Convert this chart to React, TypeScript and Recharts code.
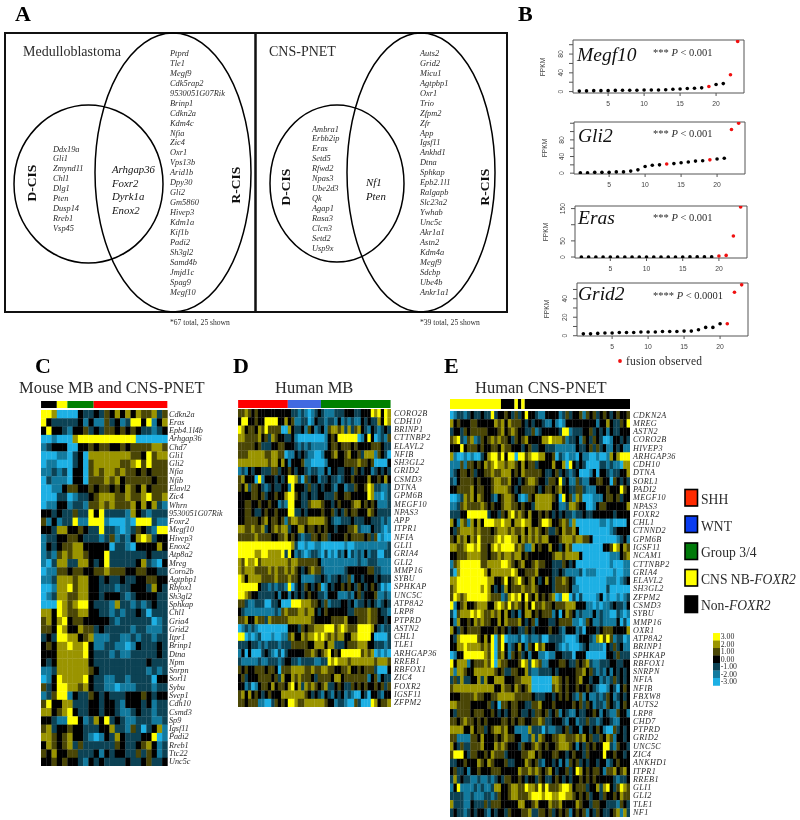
import React from 'react';
import { ScatterChart, Scatter, XAxis, YAxis, ReferenceArea, BarChart, Bar } from 'recharts';

const mbRCis = ['Ptprd','Tle1','Megf9','Cdk5rap2','9530051G07Rik','Brinp1','Cdkn2a','Kdm4c','Nfia','Zic4','Oxr1','Vps13b','Arid1b','Dpy30','Gli2','Gm5860','Hivep3','Kdm1a','Kif1b','Padi2','Sh3gl2','Samd4b','Jmjd1c','Spag9','Megf10'];
const mbDCis = ['Ddx19a','Gli1','Zmynd11','Chl1','Dlg1','Pten','Dusp14','Rreb1','Vsp45'];
const mbBoth = ['Arhgap36','Foxr2','Dyrk1a','Enox2'];
const pnetRCis = ['Auts2','Grid2','Micu1','Agtpbp1','Oxr1','Trio','Zfpm2','Zfr','App','Igsf11','Ankhd1','Dtna','Sphkap','Epb2.1l1','Ralgapb','Slc23a2','Ywhab','Unc5c','Akr1a1','Astn2','Kdm4a','Megf9','Sdcbp','Ube4b','Ankr1a1'];
const pnetDCis = ['Ambra1','Erbb2ip','Eras','Setd5','Rfwd2','Npas3','Ube2d3','Qk','Agap1','Rasa3','Clcn3','Setd2','Usp9x'];
const pnetBoth = ['Nf1','Pten'];

const megf10Values = [1,1.5,2,2,2,2.5,3,3,3,3.5,3.5,3.5,4,5,5.5,6.5,7,8,11,15,17,36,107];
const gli2Values = [1,1,2,2,2,3,3,5,8,16,19,20,22,23,25,27,29,30,32,34,36,105,120];
const erasValues = [0,0,0,0,0,0,0,0,0,0,0,0,0,0,0,0.5,0.5,0.5,0.5,3,5,65,155];
const grid2Values = [2,2,2.5,3,3,3.5,3.5,3.5,4,4,4,4.5,4.5,4.5,5,5,6.5,9,9,13,13,47,55];
const megf10Fusion = [19,22,23];
const gli2Fusion = [13,19,22,23];
const erasFusion = [20,21,22,23];
const grid2Fusion = [21,22,23];

const cGenes = ['Cdkn2a','Eras','Epb4.1l4b','Arhgap36','Chd7','Gli1','Gli2','Nfia','Nfib','Elavl2','Zic4','Whrn','9530051G07Rik','Foxr2','Megf10','Hivep3','Enox2','Atp8a2','Mreg','Coro2b','Agtpbp1','Rbfox1','Sh3gl2','Sphkap','Chl1','Gria4','Grid2','Itpr1','Brinp1','Dtna','Npm','Snrpn','Sorl1','Sybu','Svep1','Cdh10','Csmd3','Sp9','Igsf11','Padi2','Rreb1','Ttc22','Unc5c'];
const dGenes = ['CORO2B','CDH10','BRINP1','CTTNBP2','ELAVL2','NFIB','SH3GL2','GRID2','CSMD3','DTNA','GPM6B','MEGF10','NPAS3','APP','ITPR1','NFIA','GLI1','GRIA4','GLI2','MMP16','SYBU','SPHKAP','UNC5C','ATP8A2','LRP8','PTPRD','ASTN2','CHL1','TLE1','ARHGAP36','RREB1','RBFOX1','ZIC4','FOXR2','IGSF11','ZFPM2'];
const eGenes = ['CDKN2A','MREG','ASTN2','CORO2B','HIVEP3','ARHGAP36','CDH10','DTNA','SORL1','PADI2','MEGF10','NPAS3','FOXR2','CHL1','CTNND2','GPM6B','IGSF11','NCAM1','CTTNBP2','GRIA4','ELAVL2','SH3GL2','ZFPM2','CSMD3','SYBU','MMP16','OXR1','ATP8A2','BRINP1','SPHKAP','RBFOX1','SNRPN','NFIA','NFIB','FBXW8','AUTS2','LRP8','CHD7','PTPRD','GRID2','UNC5C','ZIC4','ANKHD1','ITPR1','RREB1','GLI1','GLI2','TLE1','NF1'];

// heat values: digit 0..6 stands for -3..+3
const cHeat = [
'665000 032232 435353 544524','632222 231311 423126 636135','363321 334232 443434 322123','001000 566666 666666 000000',
'123330 033434 433434 444554','000110 230555 555554 436455','011000 230455 555445 646444','112120 330454 554544 343444',
'021110 330444 545344 444344','001134 433434 434354 353444','000220 122345 554454 456445','011331 221445 454445 353521',
'332322 422636 222215 321222','413122 611666 100010 666211','332553 343226 221012 432166','122334 432221 241213 565233',
'132344 553333 302210 333353','121454 554333 622222 223222','102552 255323 622222 352103','011443 443344 544433 443322',
'112555 455332 322322 334433','001556 455332 221223 332532','012554 455332 333212 333322','000654 566322 215221 212322',
'553654 455332 212122 320222','453563 443333 321222 222012','443653 354423 222221 221112','232665 534511 122112 122122',
'343556 556311 221101 322232','333555 556322 212112 222232','323555 555322 222222 223222','112555 555432 222222 221212',
'013655 556322 112212 222033','423665 545322 110111 222122','124661 322432 322233 343233','463355 222332 332133 323122',
'553456 322332 332112 322122','332116 631253 623211 222112','452334 332223 352214 202351','554345 332101 325322 233601',
'354345 242222 224322 345312','435334 422231 323322 424312','334343 321323 222232 234223'];
const dHeat = [
'4454343333 3333332212 1012321112 2233322333 656365','3663343366 6633534112 2013221221 3121211323 225365','6534435464 4440053223 1431231455 4525245321 321232',
'5544445342 5433223100 0000001343 6666660136 301214','4444434222 3344333212 1211111344 3444343333 444322','4445555544 5544011323 2110013345 3345334255 514320',
'5555555554 5535313334 1100001333 3344445443 400003','1213233222 4423343233 2122113133 2233243233 123232','4533306133 3232366520 4233122322 1233433335 334353',
'4352443212 3223316333 2422323321 3312243346 522112','3333443423 3433566432 2322332224 3344333336 511012','3344334334 3312166332 2455543323 4333455343 431112',
'3344322343 3433366223 2333343342 3243443335 432222','3344443453 4434145544 4555554321 1222322233 222121','5544544523 4545523355 3443434332 3334452111 322101',
'4444454444 3344534321 2244344233 3343444434 240100','6666666666 6666665200 1001100000 0010011111 111112','6666655665 5556263121 0122102010 2130212131 220022',
'5465564555 5555545544 4444311111 1111112112 221111','5455544445 4544545432 3454421111 1123333334 422111','6535555444 4544454431 1112232122 3224133233 323222',
'6666663221 2122160232 4323401323 3434324323 432010','6654332222 2313313232 3433221333 1112134233 341121','4421122200 2230006665 5544324122 2332312232 321232',
'3211111111 1214544455 4553234333 3332244445 443221','4453354425 4444455555 5543333344 4453334445 443323','0121210000 0000033324 3445556664 5654446666 532122',
'6601012000 1001145335 4556565454 5533556666 300002','2223221212 2212224444 4335553552 2234445553 322212','1303000232 1020233333 4454345634 3666666454 501010',
'2111112112 2212332212 2221122656 5554555555 545554','4343344434 4304445555 4454455443 3445334344 420003','3423334444 3425335454 4432444435 5344444441 341322',
'3312013443 5344356352 5454345223 4322434343 343424','4535343234 3335555555 4323213213 2312100320 332133','4434441100 2434366544 5555554331 2210042000 653445'];
const eHeat = [
'0122123223 2262334324 2363321133 3312423341 4342343234 334','5343334433 3335453544 4323233211 3101333333 3331335322 436','2332434444 4333453454 3322412333 3326612223 3423231322 333',
'4562145124 3454544324 3453333556 5554122314 3243200133 232','3336344434 3344354433 3234223322 2111111322 3424231132 311','5100101002 3566463660 6645665533 4021011031 1001001535 666',
'1114144343 5456554554 3534423333 5335063232 0000221211 055','1234434233 4454455534 3544444322 3423212300 0130332122 335','2134444343 3345544533 2345543324 4362311421 1334433043 232',
'3344445344 3345555432 3444432344 3453322442 1113334333 643','0012545354 3321345543 1014355555 4306341540 0011134434 233','1124544445 4343345544 3433255555 3311255433 0013443333 335',
'2223366666 6233243564 5435334343 2323221223 2233333323 333','5315415353 6665565535 5655334665 3345415000 0000110100 003','3245555454 4434555454 4535454342 2435445300 0000000123 333',
'4354535464 4445656655 3545454553 3345554554 4300000001 231','5544566564 4356566664 5411534335 3323540000 0000033465 354','3344455554 4344545545 5343333333 4554555530 0000000111 345',
'1456666664 4555566543 4533454433 2224323000 0000000100 011','2056666666 5355555565 3344453333 2232111120 1110000010 011','5566666666 6553346345 6434532353 2445432000 0000001110 123',
'4566666665 6532325344 4544543333 2444431100 0000002000 000','4654566666 6544412565 6364353434 5016602020 0001301001 012','6134533455 5335654645 4353644544 3444555333 1101011232 213',
'2045556565 4454535323 1355343444 1303543121 1131211002 101','3153343545 4433535444 5323413332 2344441101 4311211113 020','5324344443 3334343233 2243233334 3321333120 3332344433 335',
'3256666643 5360460111 2012112002 2221000133 3215646412 201','3355655554 5460463123 5314364533 3210100012 3111103242 311','0133666666 5460453143 4231331101 1332220333 0000003324 222',
'6355513444 5460544333 4652654113 3344322434 5211222332 233','5155433555 5554342244 3352112222 3233333445 3421213132 323','2425223352 5335553334 4555000000 5543433453 3233121242 323',
'4555555555 5553354435 4345000000 4543433433 4321001320 343','3334444544 3344555554 4444322233 2343432141 3112124312 323','5544443333 3423044344 3322445333 4333334342 4312214321 343',
'3244443444 3343232344 3223244342 3413211322 3343132114 331','4434544343 4333344343 4433445422 3332133122 4221233211 333','5555335344 2345545331 1115222021 1223423313 3234310042 323',
'4411114435 3334345443 3112525433 4455444545 3422435413 323','5324224445 3335454333 2433454343 3455543132 4343366214 332','4666324433 4354442333 3445534333 4433234332 4333363343 323',
'2233433354 3543334223 3354342133 2313143423 2332331234 333','3422313343 3344433333 5445454345 3233423653 4344314453 453','2523221121 1212324433 4323324322 3432323343 4343333321 223',
'1361111212 1125533455 4465546464 4456653444 2335256324 654','2222112111 2212433455 4445666566 5566554343 4233243343 544','5222113222 4244433333 5533453335 4453333543 3244332221 432',
'2322123233 2132332433 3445224434 2343413434 1324322345 152'];
const colorbarHeat = ['6','5','4','3','2','1','0'];
const colorbarLabels = ['3.00','2.00','1.00','0.00','-1.00','-2.00','-3.00'];

const cGroupCounts = [3,2,5,14];
const cGroupColors = ['#000','#FFFF00','#008000','#FF0000'];
const dGroupCounts = [15,10,21];
const dGroupColors = ['#FF0000','#4169E1','#008000'];
const eGroupCounts = [15,4,1,1,1,31];
const eGroupColors = ['#FFFF00','#000','#FFFF00','#000','#FFFF00','#000'];

const legendNames = ['SHH','WNT','Group 3/4'];
const legendColors = ['#FF2A00','#0A3CF0','#007A0A','#FFFF00','#000'];

const HEAT_COLORS = ['#1DB0E4','#127A9E','#0C4254','#000000','#4A4606','#9A9400','#FFFF00'];
const SERIF = '"Liberation Serif", serif';
const SANS = '"Liberation Sans", sans-serif';
const INK = '#2b2b2b';

function Heat({ left, top, width, rowH, rows, cols }: any) {
  const n = rows.length;
  const height = n * rowH;
  const cw = width / cols;
  const data: any[] = [];
  rows.forEach((r: string, y: number) => {
    const s = r.replace(/ /g, '').padEnd(cols, '3').slice(0, cols);
    for (let x = 0; x < cols; x++) data.push({ x: x + 0.5, y: y + 0.5, v: Number(s[x]) });
  });
  return (
    <div style={{ position: 'absolute', left, top }}>
      <ScatterChart width={width} height={height} margin={{ top: 0, right: 0, bottom: 0, left: 0 }}>
        <XAxis type="number" dataKey="x" domain={[0, cols]} hide />
        <YAxis type="number" dataKey="y" domain={[0, n]} reversed hide />
        <Scatter data={data} isAnimationActive={false}
          shape={(p: any) => <rect x={p.cx - cw / 2} y={p.cy - rowH / 2} width={cw + 0.3} height={rowH + 0.3} fill={HEAT_COLORS[p.payload.v]} />} />
      </ScatterChart>
    </div>
  );
}

function GroupBar({ left, top, width, height, counts, colors }: any) {
  const row: any = { name: 'g' };
  counts.forEach((c: number, i: number) => { row['s' + i] = c; });
  const total = counts.reduce((a: number, b: number) => a + b, 0);
  return (
    <div style={{ position: 'absolute', left, top }}>
      <BarChart layout="vertical" width={width} height={height} data={[row]} margin={{ top: 0, right: 0, bottom: 0, left: 0 }} barCategoryGap={0}>
        <XAxis type="number" domain={[0, total]} hide />
        <YAxis type="category" dataKey="name" hide />
        {counts.map((_: number, i: number) => (
          <Bar key={i} dataKey={'s' + i} stackId="a" fill={colors[i]} isAnimationActive={false} />
        ))}
      </BarChart>
    </div>
  );
}

function RankPlot({ left, top, boxW, boxH, values, fusion, domain, yTicks, yLabels }: any) {
  const pts = values.map((v: number, i: number) => ({ x: i + 1, y: v }));
  const black = pts.filter((p: any) => !fusion.includes(p.x));
  const red = pts.filter((p: any) => fusion.includes(p.x));
  const ml = 40, mb = 24, mt = 8;
  const dot = (color: string) => (p: any) => <circle cx={p.cx} cy={p.cy} r={1.8} fill={color} />;
  const yTick = (p: any) => yLabels.includes(p.payload.value)
    ? <text x={p.x - 4} y={p.y} transform={`rotate(-90 ${p.x - 4} ${p.y})`} textAnchor="middle" fontSize={6.8} fontFamily={SANS} fill="#444">{p.payload.value}</text>
    : <g />;
  return (
    <div style={{ position: 'absolute', left: left - ml, top: top - mt }}>
      <ScatterChart width={boxW + ml + 4} height={boxH + mb + mt + 1} margin={{ top: mt, right: 4, bottom: 1, left: 0 }}>
        <XAxis type="number" dataKey="x" domain={[0.12, 23.88]} ticks={[5, 10, 15, 20]} interval={0} height={mb} tickSize={3} tickMargin={5}
          axisLine={false} allowDataOverflow tick={{ fontSize: 6.8, fontFamily: SANS, fill: '#444' }} stroke="#555" />
        <YAxis type="number" dataKey="y" domain={domain} ticks={yTicks} interval={0} width={ml} tickSize={4}
          axisLine={false} allowDataOverflow tick={yTick} stroke="#555" />
        <ReferenceArea x1={0.12} x2={23.88} y1={domain[0]} y2={domain[1]} fill="none" stroke="#555" strokeWidth={1} fillOpacity={0} />
        <Scatter data={black} isAnimationActive={false} shape={dot('#000')} />
        <Scatter data={red} isAnimationActive={false} shape={dot('#F01010')} />
      </ScatterChart>
    </div>
  );
}

const geneList = (names: string[], x: number, y0: number, step: number) => names.map((name, i) => ({ x, y: y0 + i * step, name }));

const textShape = (fontSize: number, extra: any = {}) => (p: any) => (
  <text x={p.cx} y={p.cy} fontSize={fontSize} fontFamily={SERIF} fontStyle="italic" fill={INK} dominantBaseline="central" {...extra}>{p.payload.name}</text>
);

const ellipse = (p: any) => (
  <ellipse cx={p.x + p.width / 2} cy={p.y + p.height / 2} rx={p.width / 2} ry={p.height / 2} fill="none" stroke="#000" strokeWidth={1.5} />
);

const STEP = 9.94;
const ROW = 8.28;
const plainText = (x: number, y: number, s: any, size: number, extra: any = {}) => (
  <text x={x} y={y} fontSize={size} fontFamily={SERIF} fill={INK} {...extra}>{s}</text>
);
const vertical = (x: number, y: number, s: string) => (
  <text x={x} y={y} transform={`rotate(-90 ${x} ${y})`} textAnchor="middle" dominantBaseline="central" fontSize={13.5} fontWeight="bold" fontFamily={SERIF} fill="#111">{s}</text>
);
const fpkm = (x: number, y: number) => (
  <text x={x} y={y} transform={`rotate(-90 ${x} ${y})`} textAnchor="middle" dominantBaseline="central" fontSize={6.6} fontFamily={SANS} fill="#444">FPKM</text>
);
const geneTitle = (x: number, y: number, s: string) => plainText(x, y, s, 19.5, { fontStyle: 'italic', fill: '#111' });
const pText = (x: number, y: number, stars: string, s: string) => (
  <text x={x} y={y} fontSize={10.5} fontFamily={SERIF} fill={INK}>{stars} <tspan fontStyle="italic">P</tspan> {s}</text>
);

export default function App() {
  const legendY = [489.5, 516, 543, 569.5, 596];
  const legendTextY = [504, 531, 557, 583.5, 610];
  return (
    <div style={{ position: 'absolute', left: 0, top: 0, width: 800, height: 820, overflow: 'hidden', background: '#fff', filter: 'blur(0.45px)' }}>
      <div style={{ position: 'absolute', left: 0, top: 0 }}>
        <ScatterChart width={800} height={820} margin={{ top: 0, right: 0, bottom: 0, left: 0 }}>
          <XAxis type="number" dataKey="x" domain={[0, 800]} hide />
          <YAxis type="number" dataKey="y" domain={[0, 820]} reversed hide />
          <ReferenceArea x1={5} x2={255.5} y1={33} y2={312} fill="none" fillOpacity={0} stroke="#111" strokeWidth={2} />
          <ReferenceArea x1={255.5} x2={507} y1={33} y2={312} fill="none" fillOpacity={0} stroke="#111" strokeWidth={2} />
          <ReferenceArea x1={14} x2={163} y1={105} y2={263} shape={ellipse} />
          <ReferenceArea x1={95} x2={251} y1={33} y2={312} shape={ellipse} />
          <ReferenceArea x1={270} x2={404} y1={105} y2={262} shape={ellipse} />
          <ReferenceArea x1={347} x2={495} y1={33} y2={312} shape={ellipse} />
          <Scatter data={geneList(mbRCis, 170, 53.5, STEP)} isAnimationActive={false} shape={textShape(8.4)} />
          <Scatter data={geneList(mbDCis, 53, 149, STEP)} isAnimationActive={false} shape={textShape(8.4)} />
          <Scatter data={geneList(mbBoth, 112, 169, 13.7)} isAnimationActive={false} shape={textShape(10.8, { fill: '#111' })} />
          <Scatter data={geneList(pnetRCis, 420, 53.5, STEP)} isAnimationActive={false} shape={textShape(8.4)} />
          <Scatter data={geneList(pnetDCis, 312, 129, STEP)} isAnimationActive={false} shape={textShape(8.4)} />
          <Scatter data={geneList(pnetBoth, 366, 182, 14)} isAnimationActive={false} shape={textShape(10.8, { fill: '#111' })} />
          <Scatter data={geneList(cGenes, 169, 414, ROW)} isAnimationActive={false} shape={textShape(8.2)} />
          <Scatter data={geneList(dGenes, 394, 413, ROW)} isAnimationActive={false} shape={textShape(8.2, { letterSpacing: 0.35 })} />
          <Scatter data={geneList(eGenes, 633, 415, ROW)} isAnimationActive={false} shape={textShape(8.2, { letterSpacing: 0.35 })} />

          {plainText(15, 21, 'A', 22, { fontWeight: 'bold', fill: '#000' })}
          {plainText(518, 21, 'B', 22, { fontWeight: 'bold', fill: '#000' })}
          {plainText(35, 373, 'C', 22, { fontWeight: 'bold', fill: '#000' })}
          {plainText(233, 373, 'D', 22, { fontWeight: 'bold', fill: '#000' })}
          {plainText(444, 373, 'E', 22, { fontWeight: 'bold', fill: '#000' })}
          {plainText(23, 56, 'Medulloblastoma', 14)}
          {plainText(269, 56, 'CNS-PNET', 14)}
          {plainText(170, 325, '*67 total, 25 shown', 7.6)}
          {plainText(420, 325, '*39 total, 25 shown', 7.6)}
          {vertical(31, 183, 'D-CIS')}
          {vertical(235, 185, 'R-CIS')}
          {vertical(285, 187, 'D-CIS')}
          {vertical(484, 187, 'R-CIS')}
          {plainText(19, 392.5, 'Mouse MB and CNS-PNET', 16.5)}
          {plainText(275, 392.5, 'Human MB', 16.5)}
          {plainText(475, 392.5, 'Human CNS-PNET', 16.5)}
          {fpkm(542, 67)}{fpkm(544, 148)}{fpkm(545, 232)}{fpkm(546, 309)}
          {geneTitle(577, 61, 'Megf10')}
          {geneTitle(578, 142, 'Gli2')}
          {geneTitle(578, 224, 'Eras')}
          {geneTitle(578, 300, 'Grid2')}
          {pText(653, 56, '***', '< 0.001')}
          {pText(653, 137, '***', '< 0.001')}
          {pText(653, 221, '***', '< 0.001')}
          {pText(653, 299, '****', '< 0.0001')}
          <circle cx={620} cy={361} r={1.9} fill="#F01010" />
          {plainText(626, 365, 'fusion observed', 11.5, { letterSpacing: 0.2 })}
          {legendColors.map((c, i) => (
            <rect key={c} x={685} y={legendY[i]} width={12.5} height={16.5} fill={c} stroke="#000" strokeWidth={1.6} />
          ))}
          {legendNames.map((s, i) => <g key={s}>{plainText(701, legendTextY[i], s, 13.6)}</g>)}
          <text x={701} y={legendTextY[3]} fontSize={13.6} fontFamily={SERIF} fill={INK}>CNS NB-<tspan fontStyle="italic">FOXR2</tspan></text>
          <text x={701} y={legendTextY[4]} fontSize={13.6} fontFamily={SERIF} fill={INK}>Non-<tspan fontStyle="italic">FOXR2</tspan></text>
          {colorbarLabels.map((s, i) => <g key={s}>{plainText(720.7, 639.3 + i * 7.5, s, 7.8)}</g>)}
        </ScatterChart>
      </div>

      <RankPlot left={573} top={40} boxW={171} boxH={53} values={megf10Values} fusion={megf10Fusion} domain={[-3, 110]} yTicks={[0,20,40,60,80,100]} yLabels={[0,40,80]} />
      <RankPlot left={574} top={122} boxW={171} boxH={52} values={gli2Values} fusion={gli2Fusion} domain={[-2, 123]} yTicks={[0,20,40,60,80,100,120]} yLabels={[0,40,80]} />
      <RankPlot left={575} top={206} boxW={172} boxH={52} values={erasValues} fusion={erasFusion} domain={[-3, 158]} yTicks={[0,50,100,150]} yLabels={[0,50,150]} />
      <RankPlot left={577} top={283} boxW={171} boxH={53} values={grid2Values} fusion={grid2Fusion} domain={[-0.3, 57]} yTicks={[0,10,20,30,40,50]} yLabels={[0,20,40]} />

      <GroupBar left={41.3} top={400.7} width={126.4} height={7.6} counts={cGroupCounts} colors={cGroupColors} />
      <GroupBar left={238.3} top={400} width={152.7} height={7.7} counts={dGroupCounts} colors={dGroupColors} />
      <GroupBar left={450} top={399.3} width={180} height={10} counts={eGroupCounts} colors={eGroupColors} />

      <Heat left={41.3} top={410} width={126.4} rowH={ROW} rows={cHeat} cols={24} />
      <Heat left={238.3} top={409} width={152.7} rowH={ROW} rows={dHeat} cols={46} />
      <Heat left={450} top={411} width={180} rowH={ROW} rows={eHeat} cols={53} />
      <Heat left={713.3} top={633.3} width={6.7} rowH={7.5} rows={colorbarHeat} cols={1} />
    </div>
  );
}
